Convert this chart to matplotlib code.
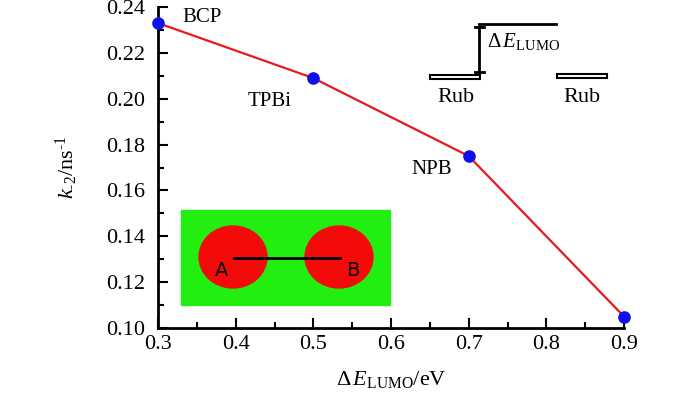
import matplotlib
matplotlib.use("Agg")
import matplotlib.pyplot as plt
from matplotlib.patches import Rectangle, Ellipse
from matplotlib.ticker import MultipleLocator

plt.rcParams['font.family'] = 'Liberation Serif'
plt.rcParams['mathtext.fontset'] = 'custom'
plt.rcParams['mathtext.rm'] = 'Liberation Serif'
plt.rcParams['mathtext.it'] = 'Liberation Serif:italic'

# data
dE = [0.3, 0.5, 0.7, 0.9]
k2 = [0.233, 0.209, 0.175, 0.105]
names = ['BCP', 'TPBi', 'NPB']
name_pos = [(0.331, 0.2356), (0.444, 0.199), (0.653, 0.169)]
name_ha = ['left', 'center', 'center']

fig = plt.figure(figsize=(7, 3.96), dpi=100)
ax = fig.add_axes([158/700, 1-328/396, (624-158)/700, (328-7)/396])

ax.plot(dE, k2, color='#e8191c', lw=1.6, zorder=2)
ax.scatter(dE, k2, s=65, color='#1010e8', zorder=3, clip_on=False)
for n, p, h in zip(names, name_pos, name_ha):
    ax.text(p[0], p[1], n, fontsize=15, ha=h, va='center')

ax.set_xlim(0.3, 0.9)
ax.set_ylim(0.10, 0.24)
ax.xaxis.set_major_locator(MultipleLocator(0.1))
ax.xaxis.set_minor_locator(MultipleLocator(0.05))
ax.yaxis.set_major_locator(MultipleLocator(0.02))
ax.yaxis.set_minor_locator(MultipleLocator(0.01))
ax.xaxis.set_major_formatter(plt.FormatStrFormatter('%.1f'))
ax.yaxis.set_major_formatter(plt.FormatStrFormatter('%.2f'))
ax.tick_params(which='major', direction='in', length=7, width=1.5, labelsize=16)
ax.tick_params(which='minor', direction='in', length=4, width=1.5)
ax.tick_params(axis='y', pad=9)
ax.tick_params(axis='x', pad=5)
for s in ['top', 'right']:
    ax.spines[s].set_visible(False)
for s in ['left', 'bottom']:
    ax.spines[s].set_linewidth(2)

ax.set_xlabel(r'$\Delta\,E_{\rm LUMO}$/eV', fontsize=16, labelpad=11)
ax.set_ylabel(r'$k_{\text{-2}}$/ns$^{\text{-1}}$', fontsize=16, labelpad=19)

# overlay in pixel coordinates for the sketches
ov = fig.add_axes([0, 0, 1, 1], facecolor='none')
ov.set_xlim(0, 700)
ov.set_ylim(396, 0)
ov.axis('off')

# A-B inset
ov.add_patch(Rectangle((181, 210), 209, 95, color='#22ee10', zorder=1))
ov.add_patch(Ellipse((233, 257), 68, 62, color='#f50a0a', zorder=2))
ov.add_patch(Ellipse((339, 257), 68, 62, color='#f50a0a', zorder=2))
ov.plot([234, 340], [258, 258], color='black', lw=2, zorder=3)
ov.text(222, 270, 'A', family='DejaVu Sans', fontsize=14, ha='center', va='center', zorder=4)
ov.text(353, 270, 'B', family='DejaVu Sans', fontsize=14, ha='center', va='center', zorder=4)

# energy level sketch
ov.add_patch(Rectangle((430, 75), 50, 4, facecolor='white', edgecolor='black', lw=1.5))
ov.add_patch(Rectangle((557, 74), 50, 4, facecolor='white', edgecolor='black', lw=1.5))
ov.plot([479, 556], [24, 24], color='black', lw=2)
ov.plot([479, 479], [27, 72], color='black', lw=2)
ov.plot([475, 484], [27, 27], color='black', lw=2)
ov.plot([475, 484], [72, 72], color='black', lw=2)
ov.text(487, 42, r'$\Delta\,E_{\rm LUMO}$', fontsize=15, ha='left', va='center')
ov.text(456, 98, 'Rub', fontsize=16, ha='center', va='center')
ov.text(582, 97, 'Rub', fontsize=16, ha='center', va='center')

fig.savefig('out.png', dpi=100)
